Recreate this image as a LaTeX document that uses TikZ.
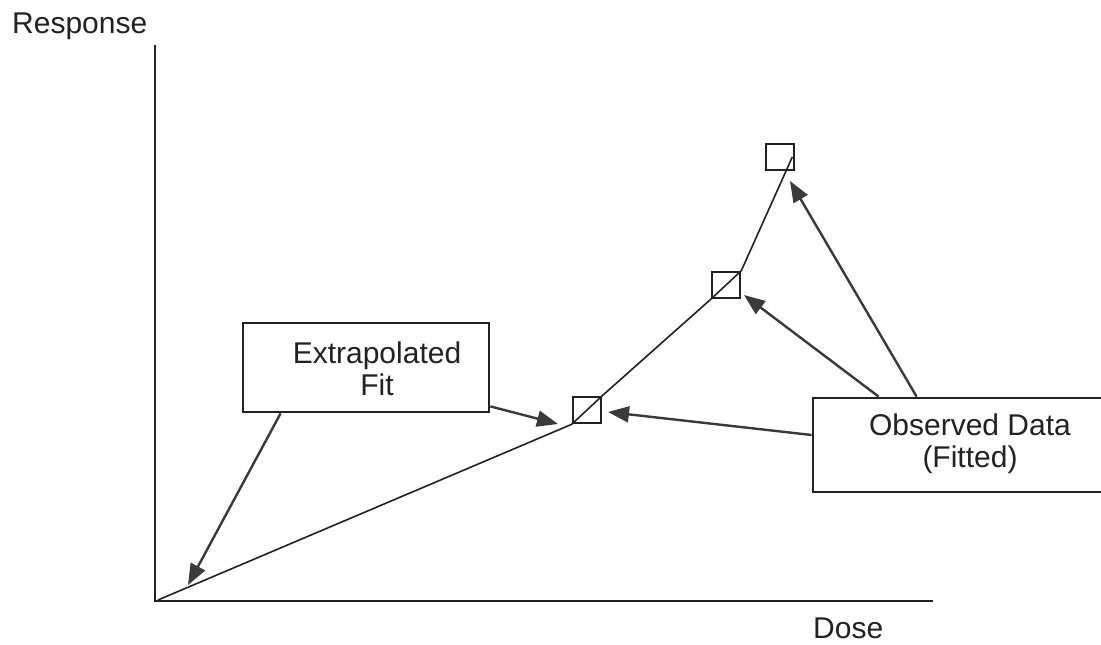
\documentclass[tikz,border=0pt]{standalone}
\usepackage{fontspec}
\setmainfont{Liberation Sans}
\usetikzlibrary{arrows.meta}
\definecolor{ink}{HTML}{222222}
\definecolor{arr}{HTML}{3A3A3A}
\begin{document}
\begin{tikzpicture}[x=1pt,y=-1pt,
  lbl/.style={font=\fontsize{30}{32}\selectfont, text=ink, inner sep=0pt, align=center},
  box/.style={draw=ink, line width=2.8pt, fill=white, inner sep=0pt},
  datapt/.style={draw=ink, line width=2.6pt, minimum width=28pt, minimum height=26pt, inner sep=0pt},
  axis/.style={draw=ink, line width=2.8pt},
  fitline/.style={draw=ink, line width=1.6pt},
  pointer/.style={draw=arr, line width=2.4pt, -{Triangle[length=21pt,width=16pt]}}]
\useasboundingbox (0,0) rectangle (1101,645);
\clip (0,0) rectangle (1101,645);
\fill[white] (0,0) rectangle (1101,645);
% axes
\coordinate (ytop) at (155,45);
\coordinate (orig) at (155,601);
\coordinate (xend) at (933,601);
\draw[axis] (ytop) -- (orig) -- (xend);
\node[lbl, anchor=base west] (resp) at (12,33) {Response};
\node[lbl, anchor=base west] (dose) at (813,638) {Dose};
% data points
\node[datapt] (p1) at (587,410) {};
\node[datapt] (p2) at (726,285) {};
\node[datapt] (p3) at (780,157) {};
% fitted line
\coordinate (o2) at (158,600);
\draw[fitline] (o2) -- (p1.south west) -- (p1.north east)
  -- (p2.south west) -- (p2.north east) -- ([xshift=-3pt]p3.east);
% boxes
\node[box, minimum width=246pt, minimum height=89pt] (ext) at (366,367.5) {};
\node[lbl, anchor=base] (extt) at (377,395) {Extrapolated\\Fit};
\node[box, minimum width=304pt, minimum height=94pt] (obs) at (965,445) {};
\node[lbl, anchor=base] (obst) at (970,467) {Observed Data\\(Fitted)};
% arrow targets
\coordinate (t1) at (188,585);
\coordinate (t2) at (558,424);
\coordinate (t3) at (608,412);
\coordinate (t4) at (744,295);
\coordinate (t5) at (790,181);
\draw[pointer] ([xshift=39pt]ext.south west) -- (t1);
\draw[pointer] ([yshift=7pt]ext.south east) -- (t2);
\draw[pointer] ([yshift=10pt]obs.west) -- (t3);
\draw[pointer] ([xshift=67pt]obs.north west) -- (t4);
\draw[pointer] ([xshift=105pt]obs.north west) -- (t5);
\end{tikzpicture}
\end{document}
